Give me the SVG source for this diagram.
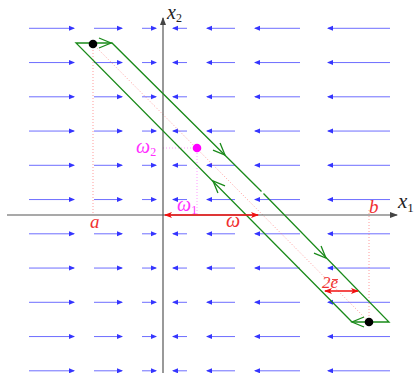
<svg xmlns="http://www.w3.org/2000/svg" width="420" height="373" viewBox="0 0 420 373">
<style>
.fld line{stroke:#4a4aff;stroke-width:1;stroke-opacity:0.8;fill:none;marker-end:url(#bh)}
.axis{stroke:#555;stroke-width:1.2;fill:none}
.grn{stroke:#1a8a1a;stroke-width:1.3;fill:none;stroke-linejoin:miter}
.rdot{stroke:#ff7070;stroke-width:0.7;stroke-dasharray:1 2;fill:none}
.mdot{stroke:#ff70ff;stroke-width:0.7;stroke-dasharray:1 2;fill:none}
.red{stroke:#f01010;stroke-width:1.3;fill:none}
.lbl{font-family:"Liberation Serif","DejaVu Serif",serif;font-style:italic}
.sub{font-family:"Liberation Serif","DejaVu Serif",serif;font-style:normal}
</style>
<defs>
<marker id="bh" viewBox="0 0 6 6" refX="5" refY="3" markerWidth="6" markerHeight="6" markerUnits="userSpaceOnUse" orient="auto">
<path d="M0,0.5 L6,3 L0,5.5 Z" fill="#3535ff"/>
</marker>
<marker id="ah" viewBox="0 0 8 8" refX="7" refY="4" markerWidth="8" markerHeight="8" markerUnits="userSpaceOnUse" orient="auto">
<path d="M0,1 L8,4 L0,7 Z" fill="#444"/>
</marker>
<marker id="rh" viewBox="0 0 8 8" refX="7" refY="4" markerWidth="8" markerHeight="8" markerUnits="userSpaceOnUse" orient="auto-start-reverse">
<path d="M0,1 L8,4 L0,7 L2,4 Z" fill="#f01010"/>
</marker>
<path id="chev" d="M-12,-5 L0,0 L-12,5"/>
</defs>

<g id="field" class="fld">
<line x1="29" y1="28.3" x2="74" y2="28.3"/>
<line x1="94" y1="28.3" x2="122" y2="28.3"/>
<line x1="142" y1="28.3" x2="156" y2="28.3"/>
<line x1="187" y1="28.3" x2="173" y2="28.3"/>
<line x1="235" y1="28.3" x2="207" y2="28.3"/>
<line x1="300" y1="28.3" x2="255" y2="28.3"/>
<line x1="390" y1="28.3" x2="328" y2="28.3"/>
</g>
<g id="field-rows">
<use href="#field" y="34.25"/>
<use href="#field" y="68.5"/>
<use href="#field" y="102.75"/>
<use href="#field" y="137"/>
<use href="#field" y="171.25"/>
<use href="#field" y="205.5"/>
<use href="#field" y="239.75"/>
<use href="#field" y="274"/>
<use href="#field" y="308.25"/>
<use href="#field" y="342.5"/>
</g>

<g id="guides">
<path class="rdot" d="M93,44 L369,322 M93,44 V215 M369,322 V208"/>
<path class="mdot" d="M163,148 H197 V215"/>
</g>

<g id="axes">
<path class="axis" d="M7,215 H397" marker-end="url(#ah)"/>
<path class="axis" d="M163,373 V18" marker-end="url(#ah)"/>
<text class="lbl" x="398" y="208" font-size="21" fill="#222">x<tspan class="sub" font-size="13" dy="4">1</tspan></text>
<text class="lbl" x="167" y="19" font-size="20" fill="#222">x<tspan class="sub" font-size="12" dy="3">2</tspan></text>
</g>

<g id="orbit">
<path class="grn" d="M352,322 L76,43 H112 L261.5,191.5 M263.5,193.5 L389,322 H352"/>
<g class="grn">
<use href="#chev" transform="translate(111,43)"/>
<use href="#chev" transform="translate(225,155) rotate(45)"/>
<use href="#chev" transform="translate(326,258) rotate(45)"/>
<use href="#chev" transform="translate(213,181) rotate(225)"/>
<use href="#chev" transform="translate(352,322) rotate(180)"/>
</g>
</g>

<g id="points">
<circle cx="93" cy="44" r="4.3" fill="#000"/>
<circle cx="369" cy="322" r="4.3" fill="#000"/>
<circle cx="197" cy="148" r="4.3" fill="#ff00ff"/>
</g>

<g id="omega">
<path class="red" d="M165,215 H258" marker-start="url(#rh)" marker-end="url(#rh)"/>
<text class="lbl" x="226" y="227" font-size="20" fill="#f03030">ω</text>
</g>

<g id="width2e">
<path class="red" d="M325,291 H358" marker-start="url(#rh)" marker-end="url(#rh)" stroke-width="1.1"/>
<text class="lbl" x="322" y="288" font-size="17" fill="#f03030">2<tspan>e</tspan></text>
<path d="M332,279.5 H338" stroke="#f03030" stroke-width="0.9"/>
</g>

<g id="labels">
<text class="lbl" x="90" y="228" font-size="19" fill="#f03030">a</text>
<text class="lbl" x="369" y="213" font-size="19" fill="#f03030">b</text>
<text class="lbl" x="136" y="153" font-size="20" fill="#ff30ff">ω<tspan class="sub" font-size="12" dy="3">2</tspan></text>
<text class="lbl" x="177" y="211" font-size="20" fill="#ff30ff">ω<tspan class="sub" font-size="12" dy="3">1</tspan></text>
</g>
</svg>
